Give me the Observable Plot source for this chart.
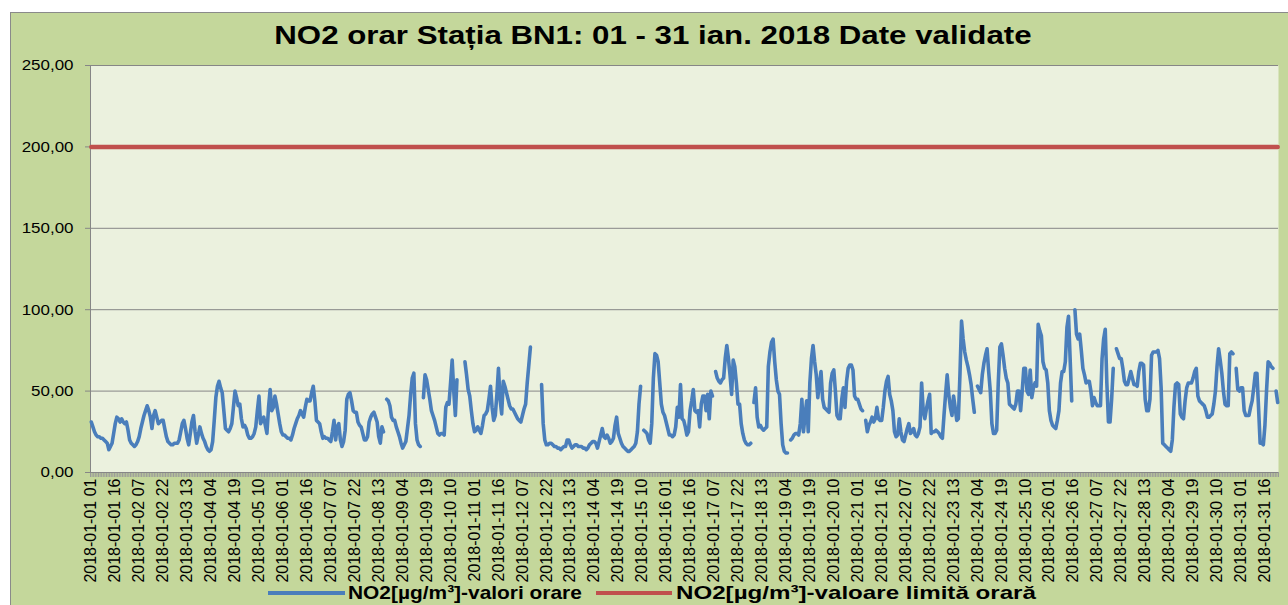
<!DOCTYPE html>
<html><head><meta charset="utf-8">
<script src="https://cdn.jsdelivr.net/npm/d3@7"></script>
<script src="https://cdn.jsdelivr.net/npm/@observablehq/plot@0.6"></script>
<style>
html,body{margin:0;padding:0;background:#fff;overflow:hidden;width:1288px;height:605px;}
#frame{position:absolute;left:10px;top:12px;width:1300px;height:620px;background:#c4d79b;border:1px solid #8a8a8a;box-sizing:border-box;}
#title{position:absolute;left:9px;top:20px;width:1288px;text-align:center;font:bold 25px "Liberation Sans",Arial,sans-serif;color:#000;white-space:nowrap;line-height:30px;}
#title span{display:inline-block;transform:scaleX(1.25);}
#plot{position:absolute;left:0;top:55px;}
.lg{position:absolute;font:bold 19px "Liberation Sans",Arial,sans-serif;color:#000;line-height:20px;white-space:nowrap;transform-origin:left center;}
.sw{position:absolute;height:4px;}
</style></head>
<body>
<div id="frame"></div>
<div id="title"><span>NO2 orar Stația BN1: 01 - 31 ian. 2018 Date validate</span></div>
<div id="plot"></div>
<div class="sw" style="left:268px;top:591px;width:77px;background:#4a7ebb"></div>
<div class="lg" style="left:348px;top:583px;transform:scaleX(1.10)">NO2[µg/m³]-valori orare</div>
<div class="sw" style="left:596px;top:591px;width:76px;background:#c0504d"></div>
<div class="lg" style="left:676px;top:583px;transform:scaleX(1.27)">NO2[µg/m³]-valoare limită orară</div>
<script>
// Hourly NO2 values (µg/m³), one row per day, hours 01..24
const no2Hourly = [
  31,28,25,23,22,22,21,21,20,19,18,14,16,18,24,30,34,33,31,33,31,30,31,26,
  20,18,17,16,17,19,22,27,31,35,38,41,38,34,27,35,38,34,30,31,32,32,27,22,
  19,18,17,17,18,18,18,20,25,30,32,27,21,17,24,31,35,25,18,23,28,24,21,19,
  16,14,13,14,19,32,46,53,56,52,49,38,27,26,25,27,30,40,50,46,41,42,33,28,
  29,27,23,21,21,22,24,28,38,47,30,32,34,29,24,40,51,38,40,47,42,36,30,25,
  23,23,22,21,21,20,23,27,30,33,35,38,36,34,40,45,44,44,49,53,44,32,31,30,
  25,21,22,21,21,20,19,25,32,20,28,30,20,16,19,26,45,48,49,44,38,37,37,31,
  29,28,24,20,20,22,31,34,36,37,34,31,22,18,28,25,null,45,44,41,34,32,32,28,
  25,22,18,15,17,19,27,35,48,58,61,30,20,17,16,null,46,60,57,51,45,38,35,32,
  28,24,23,24,24,23,40,43,42,55,69,50,35,57,null,null,null,null,68,60,51,47,38,30,
  25,26,28,26,24,29,35,36,38,45,53,40,32,35,48,64,45,36,56,53,49,45,41,39,
  39,37,35,33,32,31,35,39,42,55,66,77,null,null,null,null,null,null,54,30,20,17,17,18,
  18,17,16,16,15,15,14,15,16,16,20,20,17,15,16,17,17,16,16,16,15,15,14,15,
  17,18,19,19,18,15,19,23,27,22,21,23,21,18,19,21,29,34,24,21,18,16,15,14,
  13,13,14,15,16,18,25,42,53,null,26,25,24,20,18,30,58,73,72,68,55,42,37,35,
  31,27,23,23,22,23,28,40,34,54,33,32,28,23,25,38,44,51,38,37,38,28,42,47,
  47,38,48,33,50,47,null,62,58,56,55,57,58,70,78,70,60,48,69,65,55,42,42,30,
  24,20,18,17,17,18,null,43,52,34,28,29,27,26,27,28,65,74,80,82,68,57,50,48,
  30,17,13,12,12,null,20,21,23,24,24,23,30,45,25,35,44,25,55,70,78,68,60,46,
  55,62,45,40,39,38,37,55,61,63,50,35,33,33,45,52,40,56,64,66,66,63,47,45,
  45,42,39,38,null,32,25,29,31,34,31,33,40,33,32,32,40,50,56,59,48,44,38,25,
  22,23,33,25,20,19,23,27,30,24,25,27,23,22,24,28,55,38,33,39,44,48,24,25,
  25,26,25,24,22,21,35,48,60,48,40,35,47,40,32,33,60,93,82,74,69,65,60,54,
  45,37,null,53,51,49,60,67,72,76,62,50,30,24,24,26,55,77,79,72,64,58,55,42,
  41,40,39,42,50,50,38,50,64,64,50,48,63,46,52,55,53,91,87,84,68,64,63,55,
  38,32,29,28,27,32,38,55,62,62,68,89,96,70,44,null,100,85,82,85,75,64,60,55,
  56,56,50,41,46,43,41,41,41,70,82,88,55,31,31,45,64,null,76,73,70,70,64,56,
  54,54,58,62,58,54,54,53,62,67,67,66,45,38,38,45,72,74,74,74,75,70,52,18,
  17,16,15,14,13,20,40,54,55,54,36,34,33,44,52,55,55,55,58,62,64,47,44,43,
  42,41,38,34,34,35,36,42,50,65,76,69,61,50,42,41,41,73,74,73,null,64,51,50,
  52,52,38,35,35,35,40,44,52,61,61,40,18,18,17,29,50,68,67,65,64,null,50,43
];
const limitValue = 200;            // hourly limit value
const yTicks = [0, 50, 100, 150, 200, 250];
const labelStep = 15;              // a category label every 15 hours
const days = d3.range(1, 32);
const hours = d3.range(1, 25);

const categories = days.flatMap(d => hours.map(h =>
  `2018-01-${String(d).padStart(2, "0")} ${String(h).padStart(2, "0")}`));
const rows = categories.map((c, i) => ({i, cat: c, no2: no2Hourly[i], limit: limitValue}));
const n = rows.length;
const labelIdx = d3.range(0, n, labelStep);
const boundaries = d3.range(0, n + 1).map(k => k - 0.5);
const fmt = v => v.toFixed(2).replace(".", ",");

const chart = Plot.plot({
  width: 1288, height: 535,
  marginLeft: 90, marginRight: 10, marginTop: 10, marginBottom: 118,
  style: {background: "transparent", fontFamily: "'Liberation Sans', Arial, sans-serif", fontSize: "15px", color: "#000", overflow: "visible"},
  x: {type: "linear", domain: [-0.5, n - 0.5], label: null},
  y: {domain: [0, 250], label: null},
  marks: [
    Plot.frame({fill: "#ebf1de", stroke: null}),
    Plot.gridY(yTicks.slice(1), {stroke: "#868686", strokeOpacity: 1, strokeWidth: 1}),
    Plot.axisY({ticks: yTicks, tickSize: 5, tickPadding: 12, tickFormat: fmt, stroke: "#868686", fill: "#000", label: null}),
    Plot.axisX({ticks: boundaries, tickSize: 5, tickFormat: () => "", stroke: "#9a9a9a", label: null}),
    Plot.axisX({ticks: labelIdx, tickSize: 0, tickPadding: 6, tickRotate: -90, tickFormat: i => categories[i], fill: "#000", fontSize: 16, label: null}),
    Plot.ruleY([0], {stroke: "#868686"}),
    Plot.ruleX([-0.5], {stroke: "#868686"}),
    Plot.line(rows, {x: "i", y: "limit", stroke: "#c0504d", strokeWidth: 4.5}),
    Plot.line(rows, {x: "i", y: "no2", stroke: "#4a7ebb", strokeWidth: 3.6, strokeLinejoin: "round", strokeLinecap: "round"})
  ]
});
document.getElementById("plot").appendChild(chart);
// widen y tick labels slightly (reference text is horizontally stretched)
chart.querySelectorAll('g[aria-label="y-axis tick label"] text').forEach(t => {
  const w = t.getComputedTextLength();
  t.setAttribute("textLength", w * 1.13);
  t.setAttribute("lengthAdjust", "spacingAndGlyphs");
});
</script>
</body></html>
